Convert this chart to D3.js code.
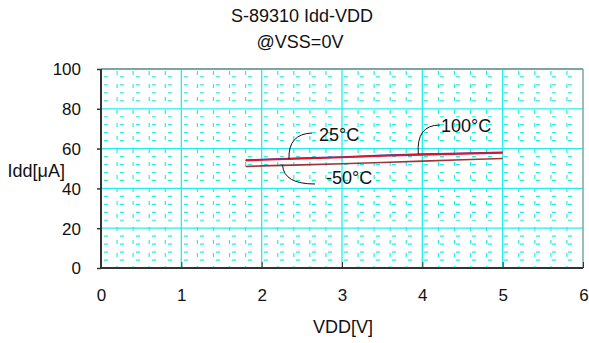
<!DOCTYPE html>
<html><head><meta charset="utf-8">
<script src="https://cdn.jsdelivr.net/npm/d3@7"></script>
<style>body{margin:0;background:#fff}svg{display:block;font-family:"Liberation Sans",Arial,sans-serif}</style>
</head><body><svg id="c" width="589" height="343"></svg>
<script>
const vdd = [1.8, 2.0, 2.5, 3.0, 3.5, 4.0, 4.5, 5.0];
const idd25 = [54.0, 54.3, 55.0, 55.6, 56.3, 56.9, 57.4, 57.9];
const idd100 = [54.2, 54.5, 55.2, 55.8, 56.6, 57.3, 57.7, 58.1];
const iddM50 = [51.0, 51.3, 51.8, 52.4, 53.0, 53.7, 54.4, 55.0];
const xTicks = [0, 1, 2, 3, 4, 5, 6];
const yTicks = [0, 20, 40, 60, 80, 100];

const svg = d3.select("#c");
const L = 101, R = 583, T = 69, B = 268;
const x = d3.scaleLinear().domain([0, 6]).range([L, R]);
const y = d3.scaleLinear().domain([0, 100]).range([B, T]);
const cyan = "#22eeee";
const FONT = "Liberation Sans, Arial, sans-serif";

// minor grid
const g = svg.append("g");
g.selectAll(".mx").data(d3.range(0, 6.001, 0.2).filter(v => Math.abs(v - Math.round(v)) > 1e-6))
  .join("line").attr("x1", d => x(d)).attr("x2", d => x(d)).attr("y1", T).attr("y2", B)
  .attr("stroke", cyan).attr("stroke-width", 1.2).attr("stroke-dasharray", "4,9").attr("stroke-dashoffset", -2);
g.selectAll(".my").data(d3.range(0, 100.01, 4).filter(v => v % 20 !== 0))
  .join("line").attr("x1", L).attr("x2", R).attr("y1", d => y(d)).attr("y2", d => y(d))
  .attr("stroke", cyan).attr("stroke-width", 1.2).attr("stroke-dasharray", "4,12").attr("stroke-dashoffset", -3);
// major grid
g.selectAll(".Mx").data(xTicks.slice(1, -1)).join("line")
  .attr("x1", d => x(d)).attr("x2", d => x(d)).attr("y1", T).attr("y2", B)
  .attr("stroke", cyan).attr("stroke-width", 1.3);
g.selectAll(".My").data(yTicks.slice(1, -1)).join("line")
  .attr("x1", L).attr("x2", R).attr("y1", d => y(d)).attr("y2", d => y(d))
  .attr("stroke", cyan).attr("stroke-width", 1.3);

// frame
svg.append("line").attr("x1", L).attr("x2", R).attr("y1", T).attr("y2", T).attr("stroke", "#7aa6a6").attr("stroke-width", 2);
svg.append("line").attr("x1", R).attr("x2", R).attr("y1", T).attr("y2", B).attr("stroke", "#7aa6a6").attr("stroke-width", 1.5);

// axes
const yAxis = d3.axisLeft(y).tickValues(yTicks).tickSize(4).tickPadding(16).tickFormat(d3.format("d"));
const ya = svg.append("g").attr("transform", `translate(${L},0)`).call(yAxis);
ya.select(".domain").attr("stroke", "#333").attr("stroke-width", 2).attr("d", `M0,${T}V${B}`);
ya.selectAll(".tick line").attr("stroke", "#333").attr("stroke-width", 1.5);
ya.selectAll("text").attr("font-size", 17).attr("fill", "#111").attr("font-family", FONT).attr("dy", "0.35em");

const xAxis = d3.axisBottom(x).tickValues(xTicks).tickSize(-6).tickPadding(20).tickFormat(d3.format("d"));
const xa = svg.append("g").attr("transform", `translate(0,${B})`).call(xAxis);
xa.select(".domain").attr("stroke", "#333").attr("stroke-width", 2).attr("d", `M${L},0H${R}`);
xa.selectAll(".tick line").attr("stroke", "#333").attr("stroke-width", 1);
xa.selectAll("text").attr("font-size", 17).attr("fill", "#111").attr("font-family", FONT).attr("dy", null).attr("y", 32.5);
xa.selectAll(".tick").filter(d => d === 6).select("text").attr("text-anchor", "end").attr("dx", "0.3em");

// series
const line = d3.line().x((d, i) => x(vdd[i])).y(d => y(d));
svg.append("path").datum(iddM50).attr("d", line).attr("fill", "none").attr("stroke", "#a03434").attr("stroke-width", 1.6);
svg.append("path").datum(idd100).attr("d", line).attr("fill", "none").attr("stroke", "#3838a0").attr("stroke-width", 1.6);
svg.append("path").datum(idd25).attr("d", line).attr("fill", "none").attr("stroke", "#e0142e").attr("stroke-width", 1.8);

// annotations
function note(vx, vy, ex, ey, c1x, c1y, label, tx, ty) {
  const sx = x(vx), sy = y(vy);
  svg.append("path").attr("d", `M${sx},${sy}Q${c1x},${c1y} ${ex},${ey}`).attr("fill", "none").attr("stroke", "#111").attr("stroke-width", 1);
  svg.append("text").attr("x", tx).attr("y", ty).attr("font-size", 18).attr("fill", "#111").text(label);
}
note(2.34, 54.8, 312, 133, 288, 134, "25°C", 319, 141);
note(3.95, 57.2, 440, 125, 416, 125, "100°C", 441, 132);
note(2.26, 51.6, 315, 184, 284, 184, "-50°C", 326, 184);

// titles
svg.append("text").attr("x", 302).attr("y", 22).attr("text-anchor", "middle").attr("font-size", 18).attr("fill", "#111").text("S-89310 Idd-VDD");
svg.append("text").attr("x", 300).attr("y", 48).attr("text-anchor", "middle").attr("font-size", 18).attr("fill", "#111").text("@VSS=0V");
svg.append("text").attr("x", 343).attr("y", 333).attr("text-anchor", "middle").attr("font-size", 18).attr("fill", "#111").text("VDD[V]");
svg.append("text").attr("x", 65).attr("y", 177).attr("text-anchor", "end").attr("font-size", 18).attr("fill", "#111").text("Idd[μA]");
</script></body></html>
